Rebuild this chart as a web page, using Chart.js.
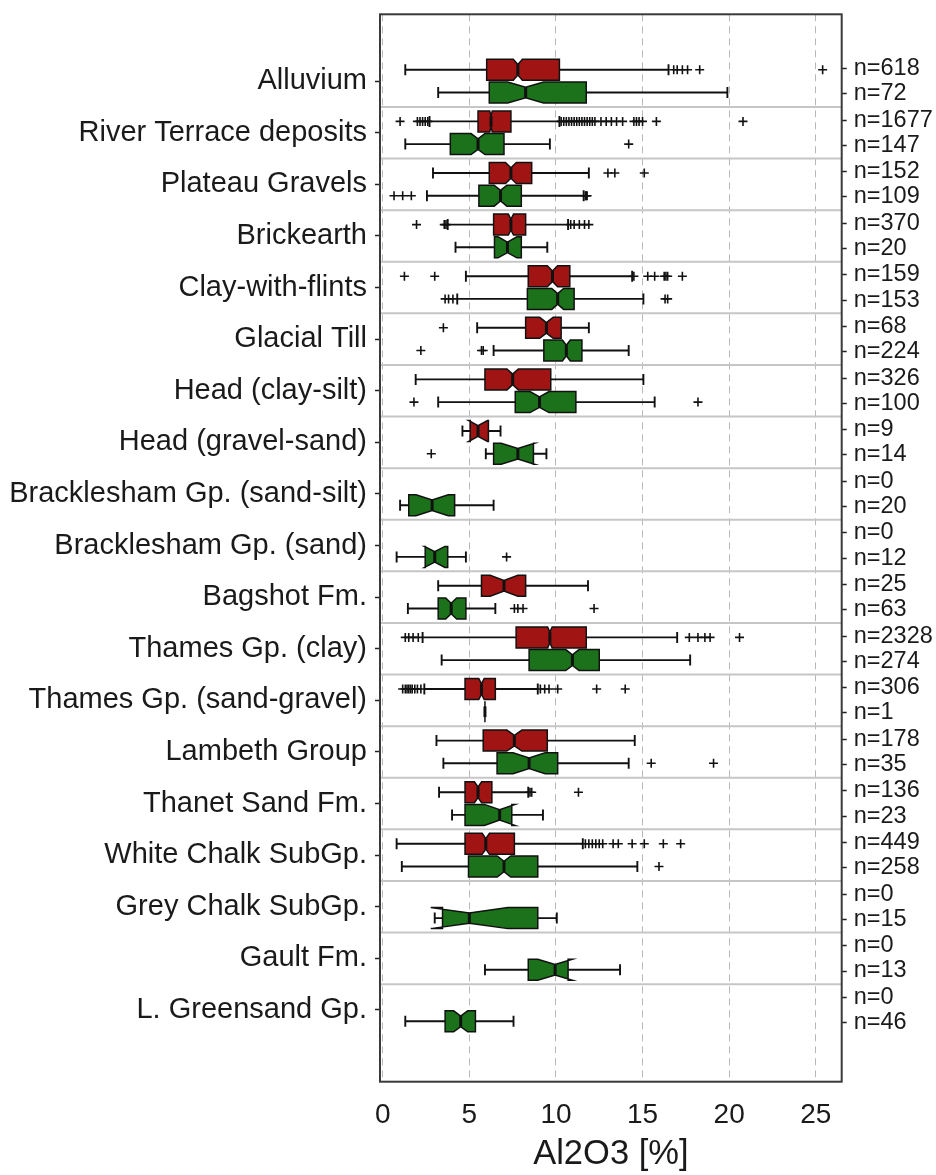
<!DOCTYPE html>
<html><head><meta charset="utf-8">
<script src="https://cdn.jsdelivr.net/npm/chart.js@4.4.1/dist/chart.umd.min.js"></script>
<style>html,body{margin:0;padding:0;background:#fff;} #wrap{width:936px;height:1175px;}</style>
</head><body><div id="wrap"><canvas id="c" width="936" height="1175"></canvas></div>
<script>
// ---------- DATA ----------
const categories = ["Alluvium","River Terrace deposits","Plateau Gravels","Brickearth","Clay-with-flints","Glacial Till","Head (clay-silt)","Head (gravel-sand)","Bracklesham Gp. (sand-silt)","Bracklesham Gp. (sand)","Bagshot Fm.","Thames Gp. (clay)","Thames Gp. (sand-gravel)","Lambeth Group","Thanet Sand Fm.","White Chalk SubGp.","Grey Chalk SubGp.","Gault Fm.","L. Greensand Gp."];
const xTicks = [0,5,10,15,20,25];

const nRed   = [618,1677,152,370,159,68,326,9,0,0,25,2328,306,178,136,449,0,0,0];
const nGreen = [72,147,109,20,153,224,100,14,20,12,63,274,1,35,23,258,15,13,46];

const redLow  = [1.3,2.7,2.9,3.75,4.8,5.45,1.9,4.6,null,null,3.2,2.3,2.4,3.1,3.25,0.8,null,null,null];
const redQ1   = [6.0,5.5,6.15,6.4,8.4,8.25,5.9,5.05,null,null,5.7,7.7,4.75,5.8,4.75,4.75,null,null,null];
const redMed  = [7.8,6.25,7.4,7.4,9.8,9.45,7.5,5.5,null,null,7.0,9.65,5.7,7.6,5.5,5.95,null,null,null];
const redQ3   = [10.2,7.4,8.6,8.25,10.8,10.3,9.7,6.1,null,null,8.25,11.75,6.5,9.5,6.3,7.6,null,null,null];
const redHigh = [16.5,10.2,11.9,10.7,14.4,11.9,15.05,6.8,null,null,11.85,17.0,8.95,14.55,8.4,11.55,null,null,null];

const greenLow  = [3.2,1.3,2.55,4.2,4.3,6.4,3.2,5.95,1.0,0.8,1.45,3.4,5.9,3.5,4.0,1.1,3.0,5.9,1.3];
const greenQ1   = [6.15,3.9,5.55,6.45,8.35,9.3,7.65,6.4,1.5,2.45,3.2,8.45,5.9,6.6,4.75,4.95,3.45,8.4,3.6];
const greenMed  = [8.25,5.5,6.8,7.2,10.1,10.6,9.05,7.8,2.85,3.0,3.95,10.95,5.9,8.45,6.75,7.0,5.0,9.95,4.5];
const greenQ3   = [11.75,7.0,8.0,8.0,11.05,11.5,11.15,8.7,4.15,3.75,4.8,12.5,5.9,10.1,7.45,8.95,8.95,10.7,5.35];
const greenHigh = [19.9,9.65,11.6,9.5,15.05,14.2,15.7,9.45,6.4,4.8,6.5,17.75,5.9,14.2,9.25,14.7,10.05,13.7,7.55];

const redOut = [
  [16.8,17.0,17.3,17.6,18.3,25.4],
  [1.0,2.0,2.15,2.3,2.45,2.6,10.3,10.45,10.6,10.75,10.9,11.05,11.2,11.35,11.5,11.65,11.8,11.95,12.1,12.25,12.6,12.9,13.2,13.5,13.85,14.5,14.65,14.8,15.0,15.8,20.8],
  [13.0,13.4,15.1],
  [1.95,3.55,3.65,10.85,11.05,11.35,11.65,11.9],
  [1.25,3.0,14.5,15.3,15.7,16.25,16.35,16.45,17.3],
  [3.5],
  [],
  [],
  [],
  [],
  [],
  [1.3,1.5,1.75,2.05,17.7,18.2,18.6,18.9,20.6],
  [1.15,1.3,1.4,1.5,1.6,1.7,1.85,2.0,2.2,9.1,9.35,9.6,10.1,12.35,14.0],
  [],
  [8.5,8.6,11.3],
  [11.7,11.9,12.1,12.3,12.5,12.7,13.3,13.6,14.4,15.1,16.2,17.2],
  [],
  [],
  []
];
const greenOut = [
  [],
  [14.2],
  [0.65,1.15,1.65,11.7,11.75,11.8],
  [],
  [3.6,3.8,4.05,16.3,16.45],
  [2.2,5.7,5.8],
  [1.8,18.2],
  [2.8],
  [],
  [7.15],
  [7.6,7.8,8.1,12.2],
  [],
  [],
  [15.5,19.1],
  [],
  [15.95],
  [],
  [],
  []
];

// ---------- STYLE / LAYOUT ----------
const FONT = "'Liberation Sans', Arial, Helvetica, sans-serif";
const RED = '#a11414', GREEN = '#1b721b';
const ROW = 0.22;      // row offset within group (axis units)
const LROW = 0.245;    // n-label offset
const BOX_HALF = 10.5; // px
const CAP_HALF = 5.5;  // px

const nLabels = [], nLabelPos = [];
categories.forEach((c,i) => {
  nLabels.push('n=' + nRed[i]); nLabelPos.push(i + 1 - LROW);
  nLabels.push('n=' + nGreen[i]); nLabelPos.push(i + 1 + LROW);
});

function outlierPoints(arr, off) {
  const pts = [];
  arr.forEach((list, i) => list.forEach(v => pts.push({x: v, y: i + 1 + off})));
  return pts;
}

function drawBox(ctx, xs, py, lo, q1, med, q3, hi, n, fill) {
  const X = v => xs.getPixelForValue(v);
  const notch = 1.57 * (q3 - q1) / Math.sqrt(n);
  const nlo = med - notch, nhi = med + notch;
  const inset = BOX_HALF * 0.5;
  const t = py - BOX_HALF, b = py + BOX_HALF;
  ctx.strokeStyle = '#111';
  ctx.lineWidth = 1.9;
  ctx.beginPath();
  ctx.moveTo(X(lo), py); ctx.lineTo(X(q1), py);
  ctx.moveTo(X(q3), py); ctx.lineTo(X(hi), py);
  ctx.moveTo(X(lo), py - CAP_HALF); ctx.lineTo(X(lo), py + CAP_HALF);
  ctx.moveTo(X(hi), py - CAP_HALF); ctx.lineTo(X(hi), py + CAP_HALF);
  ctx.stroke();
  ctx.beginPath();
  ctx.moveTo(X(q1), t);
  ctx.lineTo(X(nlo), t);
  ctx.lineTo(X(med), t + inset);
  ctx.lineTo(X(nhi), t);
  ctx.lineTo(X(q3), t);
  ctx.lineTo(X(q3), b);
  ctx.lineTo(X(nhi), b);
  ctx.lineTo(X(med), b - inset);
  ctx.lineTo(X(nlo), b);
  ctx.lineTo(X(q1), b);
  ctx.closePath();
  ctx.fillStyle = fill; ctx.fill();
  ctx.lineWidth = 1.5; ctx.strokeStyle = '#111'; ctx.stroke();
  ctx.beginPath();
  ctx.lineWidth = 3;
  ctx.moveTo(X(med), t + inset); ctx.lineTo(X(med), b - inset);
  ctx.stroke();
}

const boxPlugin = {
  id: 'boxes',
  beforeDatasetsDraw(chart) {
    const {ctx, chartArea: a, scales: {x, y}} = chart;
    ctx.save();
    ctx.strokeStyle = '#c6c6c6'; ctx.lineWidth = 2;
    for (let i = 1; i < categories.length; i++) {
      const py = y.getPixelForValue(i + 0.5);
      ctx.beginPath(); ctx.moveTo(a.left, py); ctx.lineTo(a.right, py); ctx.stroke();
    }
    ctx.beginPath(); ctx.rect(a.left, a.top, a.right - a.left, a.bottom - a.top); ctx.clip();
    categories.forEach((c, i) => {
      if (nRed[i] > 0) drawBox(ctx, x, y.getPixelForValue(i + 1 - ROW), redLow[i], redQ1[i], redMed[i], redQ3[i], redHigh[i], nRed[i], RED);
      if (nGreen[i] > 0) drawBox(ctx, x, y.getPixelForValue(i + 1 + ROW), greenLow[i], greenQ1[i], greenMed[i], greenQ3[i], greenHigh[i], nGreen[i], GREEN);
    });
    ctx.restore();
  },
  afterDraw(chart) {
    const {ctx, chartArea: a} = chart;
    ctx.save();
    ctx.strokeStyle = '#3a3a3a'; ctx.lineWidth = 2;
    ctx.strokeRect(a.left, a.top, a.right - a.left, a.bottom - a.top);
    ctx.restore();
  }
};

const ptStyle = {pointStyle: 'cross', pointRadius: 4.5, pointBorderWidth: 1.6, borderColor: '#111', backgroundColor: '#111', showLine: false};
const noPad = s => { s.paddingTop = 0; s.paddingBottom = 0; s.paddingLeft = 0; s.paddingRight = 0; };

new Chart(document.getElementById('c'), {
  type: 'scatter',
  data: {
    datasets: [
      Object.assign({label: 'red outliers', data: outlierPoints(redOut, -ROW), yAxisID: 'y'}, ptStyle),
      Object.assign({label: 'green outliers', data: outlierPoints(greenOut, ROW), yAxisID: 'y'}, ptStyle)
    ]
  },
  options: {
    responsive: false,
    animation: false,
    events: [],
    layout: {padding: {top: 14.3, left: 0, right: 0, bottom: 0}},
    plugins: {legend: {display: false}, tooltip: {enabled: false}},
    scales: {
      x: {
        type: 'linear', position: 'bottom', min: -0.16, max: 26.5,
        afterBuildTicks: s => { s.ticks = xTicks.map(v => ({value: v})); },
        afterFit: s => { s.height = 93.3; noPad(s); },
        ticks: {font: {family: FONT, size: 28}, color: '#1a1a1a', padding: 17, maxRotation: 0, autoSkip: false},
        grid: {color: '#b8b8b8', lineWidth: 1, drawTicks: false},
        border: {display: false, dash: [7, 5]},
        title: {display: true, text: 'Al2O3 [%]', font: {family: FONT, size: 34.5}, color: '#1a1a1a', padding: {top: 0, bottom: 0}}
      },
      y: {
        type: 'linear', position: 'left', min: -0.295, max: 20.39, reverse: true,
        afterBuildTicks: s => { s.ticks = categories.map((c, i) => ({value: i + 1})); },
        afterFit: s => { s.width = 380; noPad(s); },
        ticks: {callback: v => categories[v - 1], font: {family: FONT, size: 29}, color: '#1a1a1a', padding: 8, autoSkip: false},
        grid: {drawOnChartArea: false, drawTicks: true, tickLength: 5, tickColor: '#222', tickWidth: 1.5},
        border: {display: false}
      },
      yR: {
        type: 'linear', position: 'right', min: -0.295, max: 20.39, reverse: true,
        afterBuildTicks: s => { s.ticks = nLabelPos.map(v => ({value: v})); },
        afterFit: s => { s.width = 94.3; noPad(s); },
        ticks: {callback: (v, idx) => nLabels[idx], font: {family: FONT, size: 23.5}, color: '#1a1a1a', padding: 7, autoSkip: false},
        grid: {drawOnChartArea: false, drawTicks: true, tickLength: 5, tickColor: '#222', tickWidth: 1.5},
        border: {display: false}
      }
    }
  },
  plugins: [boxPlugin]
});
</script>
</body></html>
